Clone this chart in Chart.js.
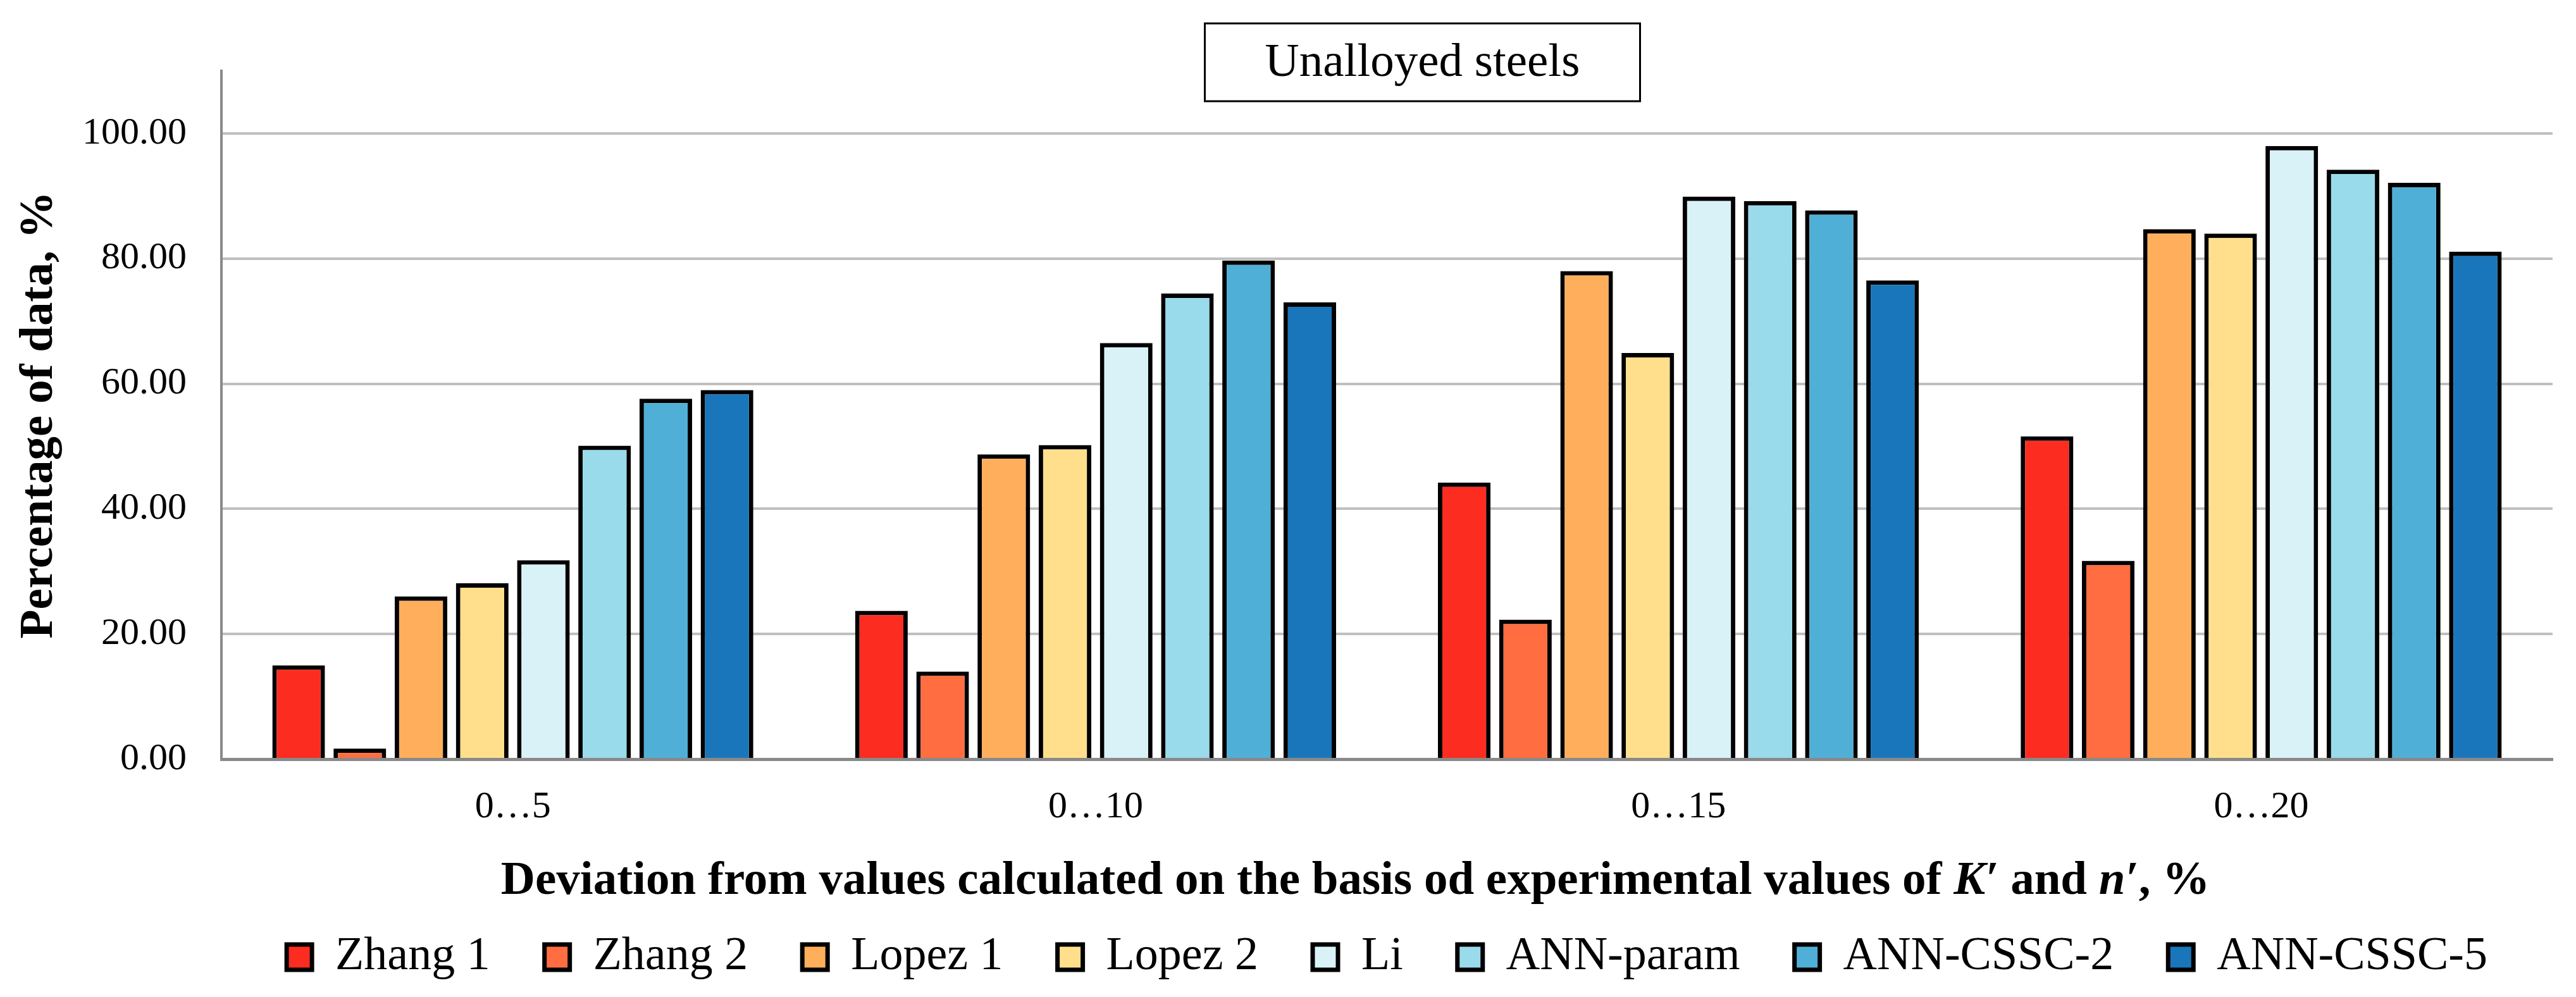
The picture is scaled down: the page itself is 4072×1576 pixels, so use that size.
<!DOCTYPE html>
<html>
<head>
<meta charset="utf-8">
<script src="https://cdn.jsdelivr.net/npm/chart.js@4.4.1/dist/chart.umd.min.js"></script>
<style>
  html, body { margin: 0; padding: 0; background: #fff; }
  canvas { display: block; }
</style>
</head>
<body>
<canvas id="bar-chart" width="4072" height="1576"></canvas>
<script>
// Data
const categories = ['0…5', '0…10', '0…15', '0…20'];
const seriesNames = ['Zhang 1', 'Zhang 2', 'Lopez 1', 'Lopez 2', 'Li', 'ANN-param', 'ANN-CSSC-2', 'ANN-CSSC-5'];
const zhang1 = [15.0, 23.7, 44.2, 51.6];
const zhang2 = [1.7, 14.0, 22.3, 31.7];
const lopez1 = [26.0, 48.7, 78.0, 84.7];
const lopez2 = [28.1, 50.2, 64.9, 84.0];
const li = [31.8, 66.5, 89.9, 98.0];
const annParam = [50.1, 74.4, 89.2, 94.2];
const annCssc2 = [57.6, 79.7, 87.7, 92.1];
const annCssc5 = [59.0, 73.0, 76.5, 81.1];
const yTickValues = [0, 20, 40, 60, 80, 100];

const seriesValues = [zhang1, zhang2, lopez1, lopez2, li, annParam, annCssc2, annCssc5];
const seriesColors = ['#fd2c21', '#ff6d40', '#ffae5c', '#ffdf8c', '#d9f2f8', '#99dbeb', '#50afd6', '#1a76ba'];

const FONT = '"Liberation Serif", "Times New Roman", serif';
Chart.defaults.font.family = FONT;
Chart.defaults.color = '#000';

// title box and the x axis title (mixed bold / bold italic)
const textPlugin = {
    id: 'textPlugin',
    afterDraw(chart) {
        const { ctx, chartArea } = chart;
        const mid = (chartArea.left + chartArea.right) / 2;
        ctx.save();

        // "Unalloyed steels" box
        const bw = 688, bh = 123;
        const bx = mid + 56 - bw / 2;
        const by = chartArea.top - 75;
        ctx.fillStyle = '#fff';
        ctx.fillRect(bx, by, bw, bh);
        ctx.strokeStyle = '#000';
        ctx.lineWidth = 3;
        ctx.strokeRect(bx, by, bw, bh);
        ctx.fillStyle = '#000';
        ctx.font = '75px ' + FONT;
        ctx.textAlign = 'center';
        ctx.textBaseline = 'middle';
        ctx.fillText('Unalloyed steels', bx + bw / 2, by + bh / 2 + 2);

        // x axis title
        const parts = [
            ['bold', 'Deviation from values calculated on the basis od experimental values of '],
            ['italic bold', 'K′'],
            ['bold', ' and '],
            ['italic bold', 'n′'],
            ['bold', ', %']
        ];
        ctx.textAlign = 'left';
        ctx.textBaseline = 'alphabetic';
        let total = 0;
        parts.forEach(p => {
            ctx.font = p[0] + ' 75px ' + FONT;
            total += ctx.measureText(p[1]).width;
        });
        let x = mid - 50 - total / 2;
        const y = chartArea.bottom + 213;
        parts.forEach(p => {
            ctx.font = p[0] + ' 75px ' + FONT;
            ctx.fillText(p[1], x, y);
            x += ctx.measureText(p[1]).width;
        });
        ctx.restore();
    }
};

const data = {
    labels: categories,
    datasets: seriesNames.map((name, i) => ({
        label: name,
        data: seriesValues[i],
        backgroundColor: seriesColors[i],
        borderColor: '#000',
        borderWidth: 7,
        borderSkipped: 'bottom',
        categoryPercentage: 0.84,
        barPercentage: 0.86
    }))
};

const config = {
    type: 'bar',
    data: data,
    plugins: [textPlugin],
    options: {
        responsive: false,
        animation: false,
        devicePixelRatio: 1,
        layout: {
            padding: { top: 112, right: 37, bottom: 16, left: 0 }
        },
        plugins: {
            title: { display: false },
            tooltip: { enabled: false },
            legend: {
                position: 'bottom',
                fullSize: false,
                labels: {
                    font: { size: 74 },
                    color: '#000',
                    boxWidth: 40,
                    boxHeight: 40,
                    padding: 86
                }
            }
        },
        scales: {
            x: {
                grid: { display: false, drawTicks: false },
                border: { display: true, color: '#898989', width: 5 },
                ticks: {
                    font: { size: 60 },
                    color: '#000',
                    padding: 40
                },
                afterFit: scale => { scale.height = 190; }
            },
            y: {
                min: 0,
                max: 110,
                afterBuildTicks: scale => {
                    scale.ticks = yTickValues.map(v => ({ value: v }));
                },
                grid: { color: '#bfbfbf', lineWidth: 4, drawTicks: false },
                border: { display: true, color: '#898989', width: 4 },
                ticks: {
                    font: { size: 60 },
                    color: '#000',
                    padding: 55,
                    callback: v => Number(v).toFixed(2)
                },
                title: {
                    display: true,
                    text: 'Percentage of data, %',
                    font: { size: 75, weight: 'bold' },
                    color: '#000',
                    padding: { top: 18, bottom: 0 }
                },
                afterFit: scale => { scale.width = 350; }
            }
        }
    }
};

const barChart = new Chart(document.getElementById('bar-chart'), config);
</script>
</body>
</html>
